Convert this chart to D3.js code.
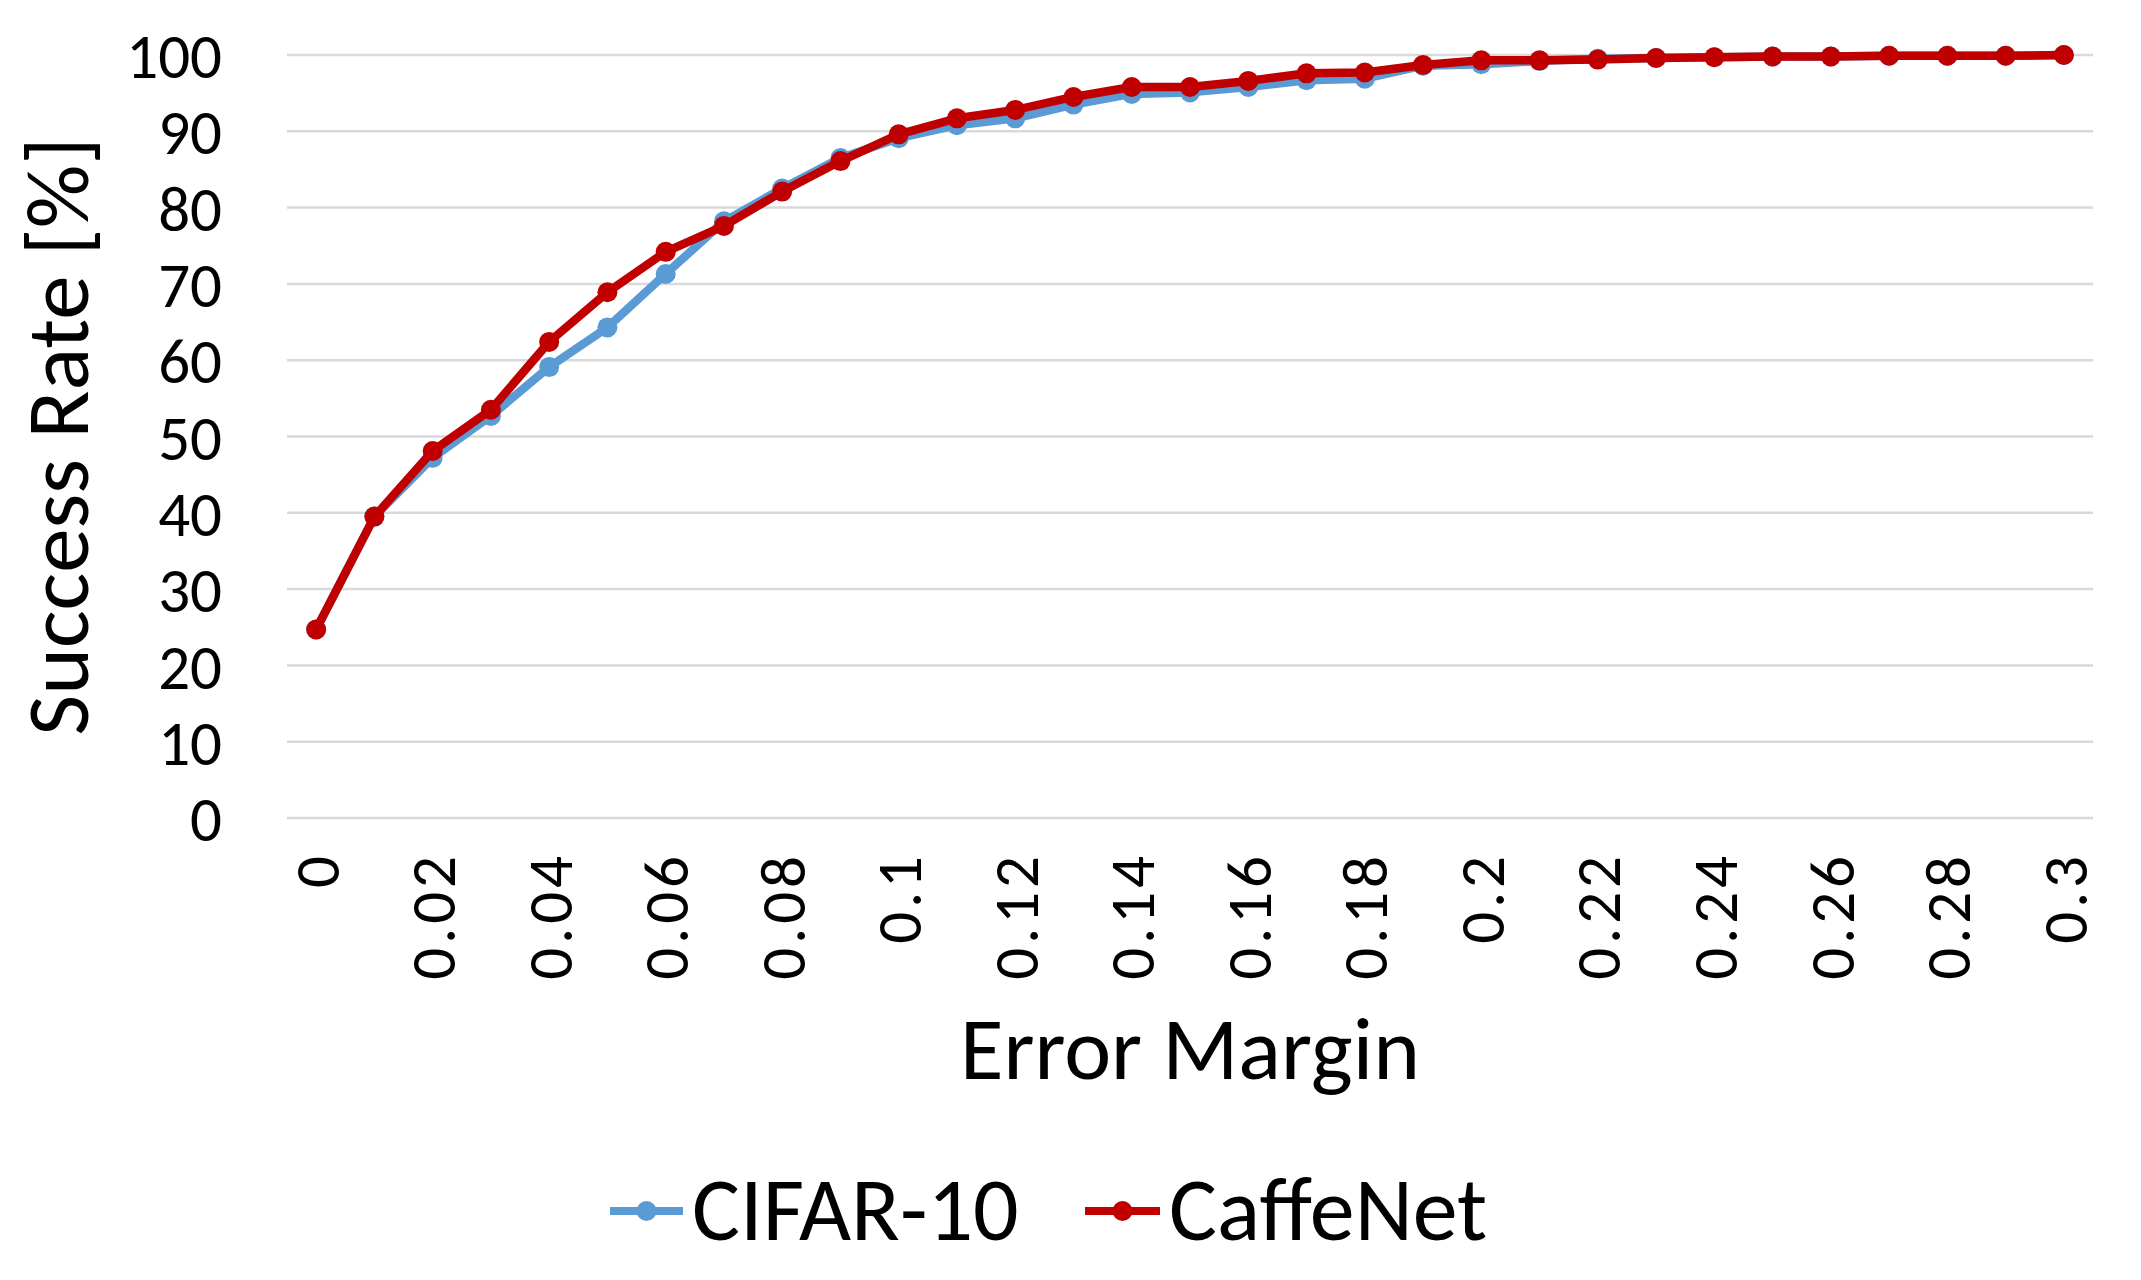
<!DOCTYPE html>
<html>
<head>
<meta charset="utf-8">
<script src="https://cdn.jsdelivr.net/npm/d3@7"></script>
<style>
  html, body { margin: 0; padding: 0; background: #ffffff; }
  svg { display: block; }
  text { font-family: Carlito, Calibri, Lato, "Open Sans", sans-serif; fill: #000; }
</style>
</head>
<body>
<script>
// ---- data ----
const categories = [0, 0.01, 0.02, 0.03, 0.04, 0.05, 0.06, 0.07, 0.08, 0.09,
  0.1, 0.11, 0.12, 0.13, 0.14, 0.15, 0.16, 0.17, 0.18, 0.19,
  0.2, 0.21, 0.22, 0.23, 0.24, 0.25, 0.26, 0.27, 0.28, 0.29, 0.3];
const cifar10 = [24.7, 39.5, 47.2, 52.7, 59.1, 64.3, 71.3, 78.2, 82.5, 86.5,
  89.1, 90.8, 91.7, 93.5, 94.9, 95.1, 95.8, 96.7, 96.9, 98.6,
  98.8, 99.2, 99.5, 99.6, 99.7, 99.8, 99.8, 99.9, 99.9, 99.9, 100];
const caffeNet = [24.7, 39.5, 48.1, 53.5, 62.4, 68.9, 74.2, 77.6, 82.1, 86.1,
  89.6, 91.7, 92.8, 94.5, 95.8, 95.8, 96.6, 97.6, 97.7, 98.7,
  99.3, 99.3, 99.4, 99.6, 99.7, 99.8, 99.8, 99.9, 99.9, 99.9, 100];
const xTickLabels = ["0", "0.02", "0.04", "0.06", "0.08", "0.1", "0.12", "0.14",
  "0.16", "0.18", "0.2", "0.22", "0.24", "0.26", "0.28", "0.3"];
const yTicks = [0, 10, 20, 30, 40, 50, 60, 70, 80, 90, 100];
const seriesNames = ["CIFAR-10", "CaffeNet"];
const seriesColors = ["#5B9BD5", "#C00000"];

// ---- layout ----
const W = 2141, H = 1280;
const plot = { left: 287, right: 2093, top: 55, bottom: 818 };
const FONT = "Carlito, Calibri, Lato, 'Open Sans', sans-serif";

const svg = d3.select("body").append("svg").attr("width", W).attr("height", H);

const x = d3.scaleBand().domain(categories.map(String))
  .range([plot.left, plot.right]).paddingInner(0).paddingOuter(0);
const xc = c => x(String(c)) + x.bandwidth() / 2;
const y = d3.scaleLinear().domain([0, 100]).range([plot.bottom, plot.top]);

// gridlines
svg.append("g").selectAll("line").data(yTicks).join("line")
  .attr("x1", plot.left).attr("x2", plot.right)
  .attr("y1", d => y(d)).attr("y2", d => y(d))
  .attr("stroke", "#d9d9d9").attr("stroke-width", 2.5);

// y axis labels
const yAxis = d3.axisLeft(y).tickValues(yTicks).tickSize(0).tickPadding(0);
const gy = svg.append("g").attr("transform", `translate(222,0)`).call(yAxis);
gy.select(".domain").remove();
gy.selectAll("text").attr("font-size", 63).attr("dy", "0.36em")
  .style("font-family", FONT).attr("fill", "#000");

// x axis labels (rotated)
const labelSet = new Set(xTickLabels);
const xAxis = d3.axisBottom(x).tickValues(categories.map(String).filter(c => labelSet.has(c)))
  .tickSize(0).tickPadding(0);
const gx = svg.append("g").attr("transform", `translate(0,852)`).call(xAxis);
gx.select(".domain").remove();
gx.selectAll("text")
  .attr("font-size", 63)
  .style("font-family", FONT).attr("fill", "#000")
  .style("letter-spacing", "4px")
  .attr("text-anchor", "end")
  .attr("transform", "rotate(-90)")
  .attr("x", 0).attr("y", 0).attr("dy", "0.36em");

// axis titles
svg.append("text").attr("x", 1190).attr("y", 1079).attr("text-anchor", "middle")
  .attr("font-size", 89).text("Error Margin");
svg.append("text").attr("transform", `translate(88,${(plot.top + plot.bottom) / 2}) rotate(-90)`)
  .attr("text-anchor", "middle").attr("font-size", 89).text("Success Rate [%]");

// series
const series = [cifar10, caffeNet];
const line = d3.line().x((d, i) => xc(categories[i])).y(d => y(d));
series.forEach((vals, si) => {
  const g = svg.append("g");
  g.append("path").datum(vals).attr("d", line)
    .attr("fill", "none").attr("stroke", seriesColors[si])
    .attr("stroke-width", 8.5).attr("stroke-linejoin", "round").attr("stroke-linecap", "round");
  g.selectAll("circle").data(vals).join("circle")
    .attr("cx", (d, i) => xc(categories[i])).attr("cy", d => y(d))
    .attr("r", 10).attr("fill", seriesColors[si]);
});

// legend
const legendItems = [
  { x1: 610, x2: 683, tx: 692 },
  { x1: 1085, x2: 1160, tx: 1169 }
];
const lg = svg.append("g");
legendItems.forEach((it, i) => {
  lg.append("line").attr("x1", it.x1).attr("x2", it.x2).attr("y1", 1211).attr("y2", 1211)
    .attr("stroke", seriesColors[i]).attr("stroke-width", 8);
  lg.append("circle").attr("cx", (it.x1 + it.x2) / 2).attr("cy", 1211).attr("r", 10)
    .attr("fill", seriesColors[i]);
  lg.append("text").attr("x", it.tx).attr("y", 1240).attr("font-size", 90).text(seriesNames[i]);
});
</script>
</body>
</html>
